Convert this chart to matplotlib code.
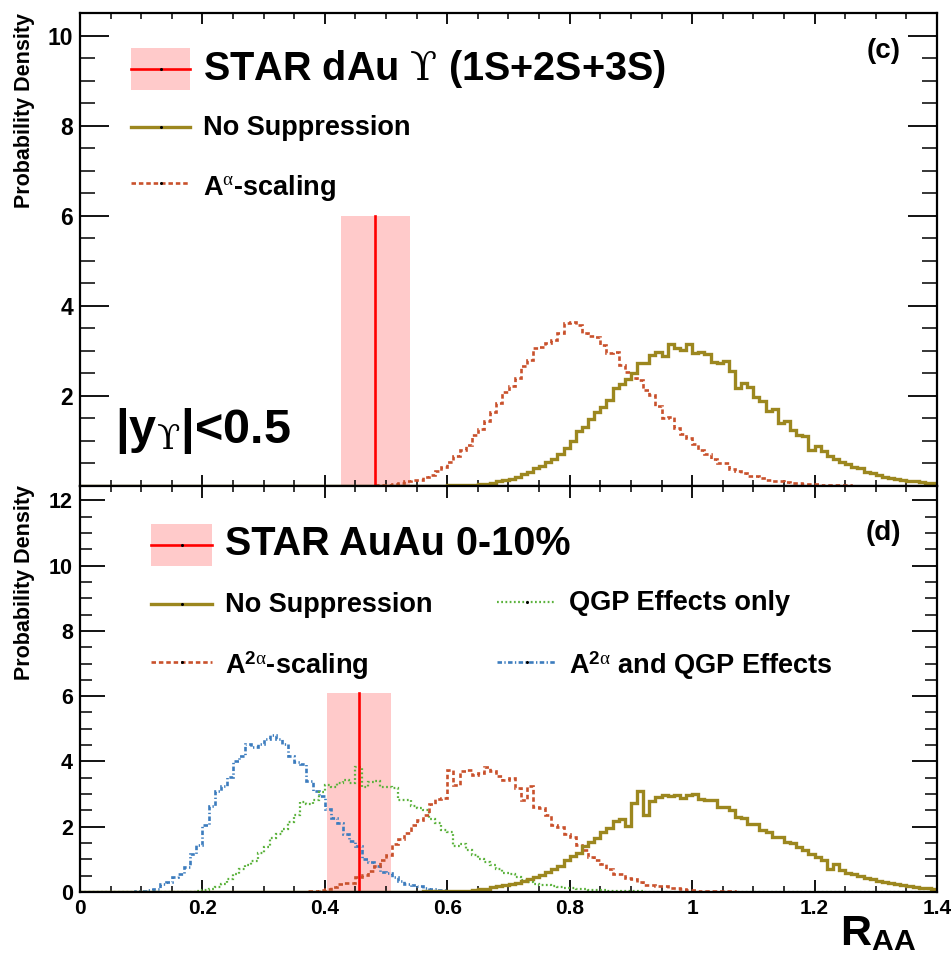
import numpy as np
import matplotlib
matplotlib.use("Agg")
import matplotlib.pyplot as plt
from matplotlib.patches import Rectangle
from matplotlib.ticker import MultipleLocator, FixedLocator

plt.rcParams['font.family'] = ['Liberation Sans', 'DejaVu Sans']
plt.rcParams['font.weight'] = 'bold'
plt.rcParams['mathtext.fontset'] = 'custom'
plt.rcParams['mathtext.rm'] = 'Liberation Serif:weight=normal'
plt.rcParams['mathtext.it'] = 'Liberation Serif:italic:weight=normal'
plt.rcParams['mathtext.bf'] = 'Liberation Sans:bold'
plt.rcParams['mathtext.sf'] = 'DejaVu Serif:weight=normal'

# ---------------- histogram binning ----------------
BIN_WIDTH = 0.01
N_BINS = 140
X_MAX = 1.4

# ---------------- panel (c): d+Au ----------------
dau_nosup_start = 0.55
dau_nosup = [0.005, 0.005, 0.01, 0.01, 0.01, 0.015, 0.02, 0.02, 0.02, 0.03,
             0.04, 0.05, 0.07, 0.10, 0.13, 0.16, 0.21, 0.27, 0.32, 0.39,
             0.45, 0.54, 0.61, 0.71, 0.84, 1.01, 1.22, 1.30, 1.48, 1.65,
             1.75, 1.91, 2.17, 2.26, 2.37, 2.50, 2.74, 2.74, 2.91, 2.98,
             2.88, 3.16, 3.06, 3.02, 3.16, 2.95, 2.97, 2.93, 2.76, 2.72,
             2.77, 2.56, 2.17, 2.29, 2.19, 1.98, 1.89, 1.67, 1.72, 1.39,
             1.45, 1.24, 1.13, 1.11, 0.81, 0.89, 0.78, 0.67, 0.60, 0.53,
             0.48, 0.43, 0.39, 0.32, 0.28, 0.24, 0.21, 0.18, 0.16, 0.13,
             0.11, 0.10, 0.08, 0.07, 0.06]

dau_scaling_start = 0.45
dau_scaling = [0.005, 0.005, 0.01, 0.015, 0.02, 0.03, 0.04, 0.06, 0.10, 0.13,
               0.14, 0.19, 0.24, 0.34, 0.43, 0.53, 0.66, 0.79, 0.92, 1.13,
               1.27, 1.45, 1.65, 1.84, 2.09, 2.22, 2.39, 2.66, 2.79, 3.07,
               3.09, 3.17, 3.24, 3.39, 3.61, 3.65, 3.58, 3.39, 3.33, 3.30,
               3.13, 2.96, 2.98, 2.69, 2.54, 2.40, 2.35, 2.14, 2.02, 1.78,
               1.50, 1.54, 1.28, 1.15, 1.06, 0.93, 0.80, 0.71, 0.61, 0.52,
               0.50, 0.37, 0.34, 0.28, 0.23, 0.22, 0.17, 0.13, 0.11, 0.10,
               0.09, 0.07, 0.06, 0.05, 0.04, 0.04, 0.03, 0.03, 0.02, 0.02,
               0.02, 0.01, 0.01, 0.01, 0.01, 0.005]

dau_raa = 0.482
dau_raa_lo = 0.426
dau_raa_hi = 0.539
dau_bar_top = 6.0

# ---------------- panel (d): Au+Au 0-10% ----------------
auau_nosup_start = 0.50
auau_nosup = [0.005, 0.005, 0.01, 0.01, 0.01, 0.015, 0.02, 0.02, 0.02, 0.03,
              0.03, 0.03, 0.04, 0.04, 0.05, 0.08, 0.10, 0.14, 0.17, 0.21,
              0.26, 0.29, 0.33, 0.39, 0.46, 0.52, 0.61, 0.69, 0.81, 0.97,
              1.10, 1.18, 1.40, 1.53, 1.65, 1.84, 1.97, 2.18, 2.25, 2.02,
              2.72, 3.09, 2.35, 2.78, 2.92, 2.97, 2.94, 2.97, 2.89, 2.97,
              3.00, 2.86, 2.83, 2.81, 2.59, 2.59, 2.51, 2.30, 2.28, 2.08,
              2.08, 1.89, 1.84, 1.69, 1.67, 1.54, 1.51, 1.38, 1.28, 1.16,
              1.07, 0.97, 0.72, 0.87, 0.67, 0.58, 0.54, 0.48, 0.44, 0.39,
              0.35, 0.31, 0.27, 0.24, 0.21, 0.18, 0.15, 0.13, 0.11, 0.08]

auau_scaling_start = 0.35
auau_scaling = [0.01, 0.01, 0.02, 0.03, 0.05, 0.08, 0.15, 0.24, 0.27, 0.29,
                0.45, 0.51, 0.65, 0.80, 0.97, 1.14, 1.46, 1.62, 1.82, 2.05,
                2.20, 2.35, 2.70, 2.85, 2.88, 3.73, 3.27, 3.72, 3.75, 3.58,
                3.65, 3.83, 3.71, 3.55, 3.43, 3.48, 3.20, 2.81, 3.25, 2.60,
                2.56, 2.35, 2.05, 2.00, 1.78, 1.68, 1.45, 1.28, 1.07, 0.97,
                0.87, 0.72, 0.56, 0.54, 0.44, 0.41, 0.31, 0.22, 0.20, 0.18,
                0.18, 0.13, 0.11, 0.08, 0.07, 0.05, 0.04, 0.04, 0.03, 0.03,
                0.02, 0.02, 0.01, 0.01]

auau_qgp_start = 0.18
auau_qgp = [0.01, 0.02, 0.05, 0.10, 0.15, 0.25, 0.39, 0.56, 0.69, 0.84,
            0.94, 1.18, 1.38, 1.64, 1.79, 1.94, 2.15, 2.35, 2.76, 2.71,
            2.81, 3.07, 3.27, 3.22, 3.34, 3.43, 3.34, 3.83, 3.22, 3.37,
            3.40, 3.22, 3.22, 3.20, 2.83, 2.81, 2.62, 2.58, 2.50, 2.25,
            2.10, 1.89, 1.84, 1.40, 1.47, 1.28, 1.13, 1.02, 0.92, 0.82,
            0.69, 0.58, 0.54, 0.46, 0.38, 0.30, 0.25, 0.22, 0.20, 0.17,
            0.15, 0.13, 0.12, 0.10, 0.08, 0.07, 0.06, 0.05, 0.04, 0.04,
            0.03, 0.03, 0.02, 0.02, 0.01, 0.01]

auau_both_start = 0.09
auau_both = [0.02, 0.02, 0.07, 0.10, 0.25, 0.30, 0.46, 0.56, 0.77, 1.16,
             1.43, 2.04, 2.63, 3.10, 3.26, 3.53, 4.00, 4.16, 4.55, 4.45,
             4.55, 4.68, 4.82, 4.70, 4.52, 4.16, 3.99, 3.91, 3.39, 3.08,
             2.93, 2.55, 2.27, 2.11, 1.77, 1.57, 1.41, 1.00, 0.93, 0.80,
             0.62, 0.57, 0.46, 0.33, 0.26, 0.21, 0.18, 0.13, 0.10, 0.07,
             0.05, 0.04, 0.03, 0.02, 0.02, 0.01, 0.01]

auau_raa = 0.456
auau_raa_lo = 0.4035
auau_raa_hi = 0.5076
auau_bar_top = 6.1

# ---------------- styles ----------------
C_GOLD = '#9C871F'
C_RED = '#C9512C'
C_BLUE = '#3C7CBE'
C_GREEN = '#5BB23C'
C_BAND = '#FFCACA'
C_DATA = '#FF0000'

STY_NOSUP = dict(color=C_GOLD, lw=2.4, ls='-')
STY_SCAL = dict(color=C_RED, lw=1.9, ls=(0, (1.7, 1.1)))
STY_QGP = dict(color=C_GREEN, lw=1.6, ls=(0, (0.8, 1.1)))
STY_BOTH = dict(color=C_BLUE, lw=1.9, ls=(0, (1.7, 0.9, 0.5, 0.9)))

UPS = r'$\mathsf{ϒ}$'

W, H = 951, 957
fig = plt.figure(figsize=(W / 100, H / 100), dpi=100)


def fx(px):
    return px / W


def fy(py):
    return 1 - py / H


edges = np.linspace(0, X_MAX, N_BINS + 1)


def to_bins(start, vals):
    h = np.zeros(N_BINS)
    i0 = int(round(start / BIN_WIDTH))
    h[i0:i0 + len(vals)] = vals
    return h


ax_c = fig.add_axes([fx(80), fy(486), fx(937) - fx(80), fy(13) - fy(486)])
ax_d = fig.add_axes([fx(80), fy(892), fx(937) - fx(80), fy(486) - fy(892)])

for ax in (ax_c, ax_d):
    ax.set_xlim(0, X_MAX)
    for s in ax.spines.values():
        s.set_linewidth(1.6)
        s.set_zorder(5)
    ax.xaxis.set_major_locator(MultipleLocator(0.2))
    ax.xaxis.set_minor_locator(MultipleLocator(0.05))
    ax.yaxis.set_minor_locator(MultipleLocator(0.5))

ax_c.set_ylim(0, 10.5)
ax_d.set_ylim(0, 12.44)
ax_c.yaxis.set_major_locator(FixedLocator([2, 4, 6, 8, 10]))
ax_d.yaxis.set_major_locator(MultipleLocator(2))

# ROOT style inward ticks on all four sides
ax_c.tick_params(axis='y', which='major', direction='in', length=21, width=1.3,
                 left=True, right=True, labelsize=16.5, pad=5)
ax_c.tick_params(axis='y', which='minor', direction='in', length=10.5, width=1.1,
                 left=True, right=True)
ax_c.tick_params(axis='x', which='major', direction='in', length=8, width=1.3,
                 top=True, bottom=True, labelbottom=False)
ax_c.tick_params(axis='x', which='minor', direction='in', length=4, width=1.1,
                 top=True, bottom=True)

ax_d.tick_params(axis='y', which='major', direction='in', length=18, width=1.3,
                 left=True, right=True, labelsize=15.5, pad=5)
ax_d.tick_params(axis='y', which='minor', direction='in', length=8.6, width=1.1,
                 left=True, right=True)
ax_d.tick_params(axis='x', which='major', direction='in', length=8.6, width=1.3,
                 top=True, bottom=True, labelsize=15, pad=5)
ax_d.tick_params(axis='x', which='minor', direction='in', length=4.3, width=1.1,
                 top=True, bottom=True)
ax_d.set_xticks(np.arange(0, 1.41, 0.2))
ax_d.set_xticklabels(['0', '0.2', '0.4', '0.6', '0.8', '1', '1.2', '1.4'])
for lab in ax_d.get_xticklabels() + ax_d.get_yticklabels() + ax_c.get_yticklabels():
    lab.set_fontweight('bold')

# ---------------- panel (c) ----------------
ax_c.add_patch(Rectangle((dau_raa_lo, 0), dau_raa_hi - dau_raa_lo, dau_bar_top,
                         facecolor=C_BAND, edgecolor='none', zorder=1))
ax_c.stairs(to_bins(dau_scaling_start, dau_scaling), edges, zorder=3, **STY_SCAL)
ax_c.stairs(to_bins(dau_nosup_start, dau_nosup), edges, zorder=3, **STY_NOSUP)
ax_c.plot([dau_raa, dau_raa], [0, dau_bar_top], color=C_DATA, lw=1.9, zorder=4)

# ---------------- panel (d) ----------------
ax_d.add_patch(Rectangle((auau_raa_lo, 0), auau_raa_hi - auau_raa_lo, auau_bar_top,
                         facecolor=C_BAND, edgecolor='none', zorder=1))
ax_d.stairs(to_bins(auau_both_start, auau_both), edges, zorder=3, **STY_BOTH)
ax_d.stairs(to_bins(auau_qgp_start, auau_qgp), edges, zorder=3, **STY_QGP)
ax_d.stairs(to_bins(auau_scaling_start, auau_scaling), edges, zorder=3, **STY_SCAL)
ax_d.stairs(to_bins(auau_nosup_start, auau_nosup), edges, zorder=3, **STY_NOSUP)
ax_d.plot([auau_raa, auau_raa], [0, auau_bar_top], color=C_DATA, lw=1.9, zorder=4)


# ---------------- legends (drawn in figure pixels) ----------------
def legend_line(x0, x1, y, sty):
    fig.add_artist(plt.Line2D([fx(x0), fx(x1)], [fy(y), fy(y)], **sty))
    fig.add_artist(plt.Line2D([fx((x0 + x1) / 2)], [fy(y)], marker='o',
                              markersize=1.2, color='black', lw=0))


def legend_box(x0, x1, y0, y1, yl):
    fig.add_artist(Rectangle((fx(x0), fy(y1)), fx(x1) - fx(x0), fy(y0) - fy(y1),
                             facecolor=C_BAND, edgecolor='none',
                             transform=fig.transFigure))
    legend_line(x0, x1, yl, dict(color=C_DATA, lw=1.9))


def legend_text(x, y, s, size):
    fig.text(fx(x), fy(y), s, fontsize=size, fontweight='bold',
             ha='left', va='baseline')


# panel (c)
legend_box(131, 190, 48, 90, 68.5)
legend_text(203, 80, 'STAR dAu ' + UPS + ' (1S+2S+3S)', 28.5)
legend_line(131, 190, 127, STY_NOSUP)
legend_text(203, 135, 'No Suppression', 19.5)
legend_line(131, 190, 183, STY_SCAL)
legend_text(203, 195, r'A$^{\mathrm{\alpha}}$-scaling', 19.5)
fig.text(fx(901), fy(58), '(c)', fontsize=20, fontweight='bold',
         ha='right', va='baseline')
fig.text(fx(115), fy(443), r'|y$_{\mathsf{ϒ}}$|<0.5', fontsize=35,
         fontweight='bold', ha='left', va='baseline')

# panel (d)
legend_box(151, 212, 524, 566, 545)
legend_text(225, 555, 'STAR AuAu 0-10%', 28.5)
legend_line(151, 212, 604, STY_NOSUP)
legend_text(225, 612, 'No Suppression', 19.5)
legend_line(151, 212, 662, STY_SCAL)
legend_text(225, 674, r'A$^{\mathbf{2}\mathrm{\alpha}}$-scaling', 19.5)
legend_line(497, 556, 602, STY_QGP)
legend_text(569, 610, 'QGP Effects only', 19.5)
legend_line(497, 556, 662, STY_BOTH)
legend_text(569, 674, r'A$^{\mathbf{2}\mathrm{\alpha}}$ and QGP Effects', 19.5)
fig.text(fx(901), fy(540), '(d)', fontsize=20, fontweight='bold',
         ha='right', va='baseline')

# axis titles
for ytop in (13, 485):
    fig.text(fx(14), fy(ytop), 'Probability Density', fontsize=15.5,
             fontweight='bold', rotation=90, ha='left', va='top')
fig.text(fx(916), fy(945), r'R$_{\mathbf{AA}}$', fontsize=31,
         fontweight='bold', ha='right', va='baseline')

fig.savefig('out.png', dpi=100)
